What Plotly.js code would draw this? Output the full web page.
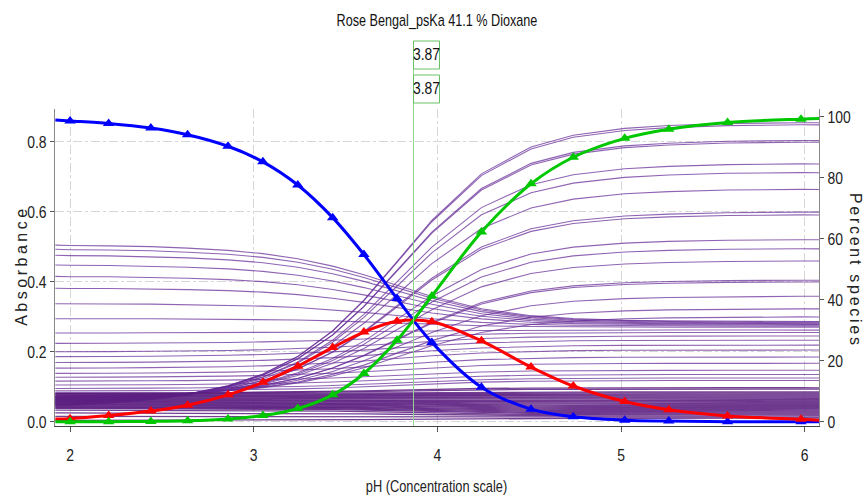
<!DOCTYPE html>
<html>
<head>
<meta charset="utf-8">
<script src="https://cdn.plot.ly/plotly-3.0.1.min.js"></script>
<style>html,body{margin:0;padding:0;background:#fff;}#chart{width:864px;height:497px;}</style>
</head>
<body>
<div id="chart"></div>
<script>
// measured pH points (marker positions)
const pH = [2.00, 2.21, 2.44, 2.64, 2.86, 3.05, 3.24, 3.43, 3.60, 3.78, 3.97, 4.24, 4.51, 4.74, 5.02, 5.26, 5.58, 5.98];
// percent species (right axis)
const pctBlue  = [98.6, 97.8, 96.3, 94.1, 90.3, 85.2, 77.6, 66.9, 54.8, 40.4, 26.0, 11.3, 4.1, 1.6, 0.5, 0.2, 0.0, 0.0];
const pctRed   = [1.0, 2.0, 3.5, 5.4, 8.8, 12.9, 18.2, 24.3, 29.4, 32.9, 32.8, 26.5, 17.9, 11.7, 6.6, 3.9, 1.9, 0.8];
const pctGreen = [0.0, 0.0, 0.1, 0.3, 0.9, 2.0, 4.3, 8.8, 15.8, 26.7, 41.2, 62.2, 78.0, 86.7, 92.9, 95.9, 98.1, 99.2];
// curve values read at the left and right plot edges
const pHEdges    = [1.92, 6.08];
const blueEdges  = [98.9, 0.0];
const redEdges   = [0.9, 0.5];
const greenEdges = [0.0, 99.4];
// absorbance of each wavelength for the acid, intermediate and base forms
const absAcid = [
  0.041, 0.043, 0.045, 0.047, 0.049, 0.051, 0.053, 0.055, 0.057, 0.059, 0.061, 0.063, 0.065, 0.067, 0.069, 0.071, 0.073,
  0.507, 0.495, 0.478, 0.450, 0.417, 0.383, 0.338, 0.295, 0.254, 0.224, 0.200, 0.186, 0.169, 0.153, 0.138, 0.127, 0.116, 0.105, 0.095, 0.088,
  0.004, 0.015, 0.025, 0.033, 0.038, 0.040, 0.042, 0.044, 0.046, 0.048, 0.050, 0.052, 0.054, 0.056, 0.058, 0.060, 0.062, 0.064, 0.066, 0.068, 0.070, 0.072, 0.074, 0.076, 0.078, 0.080, 0.081, 0.082
];
const absMid = [
  0.645, 0.640, 0.605, 0.600, 0.555, 0.535, 0.500, 0.452, 0.445, 0.393, 0.373, 0.347, 0.306, 0.302, 0.271, 0.244, 0.227,
  0.330, 0.326, 0.321, 0.314, 0.306, 0.297, 0.286, 0.275, 0.260, 0.249, 0.236, 0.224, 0.209, 0.195, 0.176, 0.159, 0.141, 0.129, 0.119, 0.112,
  0.007, 0.014, 0.021, 0.026, 0.030, 0.033, 0.036, 0.038, 0.041, 0.044, 0.046, 0.049, 0.051, 0.054, 0.057, 0.059, 0.062, 0.064, 0.067, 0.070, 0.072, 0.075, 0.078, 0.081, 0.085, 0.088, 0.091, 0.095
];
const absBase = [
  0.856, 0.850, 0.805, 0.800, 0.738, 0.713, 0.665, 0.600, 0.592, 0.521, 0.495, 0.460, 0.405, 0.400, 0.359, 0.323, 0.300,
  0.286, 0.284, 0.282, 0.280, 0.278, 0.276, 0.273, 0.270, 0.262, 0.255, 0.245, 0.233, 0.219, 0.205, 0.185, 0.167, 0.147, 0.135, 0.125, 0.118,
  0.010, 0.013, 0.016, 0.019, 0.022, 0.025, 0.028, 0.031, 0.034, 0.037, 0.040, 0.043, 0.046, 0.049, 0.052, 0.055, 0.058, 0.061, 0.064, 0.067, 0.070, 0.073, 0.076, 0.079, 0.082, 0.085, 0.093, 0.097, 0.101, 0.108
];
const pKaValues = ['3.87', '3.87'];
const pKaLine = 3.87;
const titleText = 'Rose Bengal_psKa 41.1 % Dioxane';
const xTitle = 'pH (Concentration scale)';
const yTitle = 'Absorbance';
const y2Title = 'Percent species';

const FONT = 'Liberation Sans, Arial, sans-serif';

const xs = [pHEdges[0]].concat(pH, [pHEdges[1]]);
const fB = [blueEdges[0]].concat(pctBlue, [blueEdges[1]]);
const fR = [redEdges[0]].concat(pctRed, [redEdges[1]]);
const fG = [greenEdges[0]].concat(pctGreen, [greenEdges[1]]);

const traces = [];
for (let k = 0; k < absAcid.length; k++) {
  const ys = xs.map((_, i) => (fB[i] * absAcid[k] + fR[i] * absMid[k] + fG[i] * absBase[k]) / 100);
  const dense = k >= 37;
  traces.push({x: xs, y: ys, type: 'scatter', mode: 'lines', hoverinfo: 'skip', showlegend: false,
    line: {color: dense ? 'rgba(92,30,128,0.85)' : 'rgba(100,40,150,0.72)', width: dense ? 1.3 : 1.1}});
}
function species(vals, color) {
  return [
    {x: xs, y: vals, yaxis: 'y2', type: 'scatter', mode: 'lines', showlegend: false, hoverinfo: 'skip',
      line: {color: color, width: 3, shape: 'spline', smoothing: 1}},
    {x: pH, y: vals.slice(1, vals.length - 1), yaxis: 'y2', type: 'scatter', mode: 'markers', showlegend: false,
      marker: {symbol: 'triangle-up', size: 10, color: color}}
  ];
}
traces.push(...species(fB, '#0000ff'));
traces.push(...species(fR, '#ff0000'));
traces.push(...species(fG, '#00c800'));

const plotTop = 109, plotBottom = 426, plotH = plotBottom - plotTop;
const py = p => (plotBottom - p) / plotH;
const xRange = [1.918, 6.078];
const pxPerUnit = 764 / (xRange[1] - xRange[0]);
const boxW = 26 / pxPerUnit;
const TICKF = {family: FONT, size: 17, color: '#222'};

const boxes = [[41, 69], [75, 103]];
const shapes = [
  {type: 'line', xref: 'x', yref: 'paper', x0: pKaLine, x1: pKaLine, y0: 0, y1: py(41),
    line: {color: '#8fd68f', width: 1}}
];
const annotations = [];
boxes.forEach((b, i) => {
  shapes.push({type: 'rect', xref: 'x', yref: 'paper', x0: pKaLine, x1: pKaLine + boxW, y0: py(b[1]), y1: py(b[0]),
    line: {color: '#66c266', width: 1}, fillcolor: '#ffffff'});
  annotations.push({text: pKaValues[i], xref: 'x', yref: 'paper', x: pKaLine + boxW / 2, y: py((b[0] + b[1]) / 2),
    xanchor: 'center', yanchor: 'middle', showarrow: false, font: {family: FONT, size: 17, color: '#111'}});
});
annotations.push(
  {text: xTitle, xref: 'paper', yref: 'paper', x: (436 - 55) / 764, y: py(486), xanchor: 'center', yanchor: 'middle', showarrow: false,
    font: {family: FONT, size: 16, color: '#222'}},
  {text: yTitle, xref: 'paper', yref: 'paper', x: (21 - 55) / 764, y: py(268), xanchor: 'center', yanchor: 'middle',
    showarrow: false, textangle: -90, font: {family: FONT, size: 16, color: '#222'}},
  {text: y2Title, xref: 'paper', yref: 'paper', x: (856 - 55) / 764, y: py(269), xanchor: 'center', yanchor: 'middle',
    showarrow: false, textangle: 90, font: {family: FONT, size: 16, color: '#222'}}
);

const layout = {
  width: 864, height: 497,
  margin: {l: 55, r: 45, t: plotTop, b: 497 - plotBottom},
  paper_bgcolor: '#fff', plot_bgcolor: '#fff',
  font: {family: FONT, size: 16, color: '#222'},
  title: {text: titleText, x: 0.5, xref: 'paper', xanchor: 'center', y: 1 - 20 / 497, yref: 'container', yanchor: 'middle',
    font: {family: FONT, size: 16, color: '#111'}},
  xaxis: {range: xRange, tickvals: [2, 3, 4, 5, 6], ticks: 'outside', ticklen: 5, tickcolor: '#555',
    ticklabelstandoff: 9,
    showline: true, linecolor: '#444', linewidth: 1, zeroline: false,
    showgrid: true, gridcolor: '#d6d6d6', griddash: 'dashdot', gridwidth: 1, tickfont: TICKF},
  yaxis: {range: [-0.0123, 0.8934], tickvals: [0, 0.2, 0.4, 0.6, 0.8], ticktext: ['0.0', '0.2', '0.4', '0.6', '0.8'],
    ticks: 'outside', ticklen: 4, tickcolor: '#555', showline: true, linecolor: '#888', zeroline: false,
    showgrid: true, gridcolor: '#d6d6d6', griddash: 'dashdot', gridwidth: 1, tickfont: TICKF},
  yaxis2: {overlaying: 'y', side: 'right', range: [-1.41, 102.52], tickvals: [0, 20, 40, 60, 80, 100],
    ticks: 'outside', ticklen: 4, tickcolor: '#555', showline: true, linecolor: '#888', zeroline: false, showgrid: false,
    tickfont: TICKF},
  shapes: shapes,
  annotations: annotations
};

Plotly.newPlot('chart', traces, layout, {displayModeBar: false, staticPlot: true}).then(() => {
  const spaced = {};
  spaced[yTitle] = 117;
  spaced[y2Title] = 152;
  document.querySelectorAll('#chart text').forEach(t => {
    const s = t.textContent;
    if (spaced[s] !== undefined) {
      t.setAttribute('textLength', spaced[s]);
      t.setAttribute('lengthAdjust', 'spacing');
      return;
    }
    const x = parseFloat(t.getAttribute('x')) || 0;
    const tr = t.getAttribute('transform') || '';
    const k = s === titleText ? 0.79 : (s === xTitle ? 0.8 : 0.82);
    t.setAttribute('transform', tr + ' translate(' + x + ',0) scale(' + k + ',1) translate(' + (-x) + ',0)');
  });
});
</script>
</body>
</html>
